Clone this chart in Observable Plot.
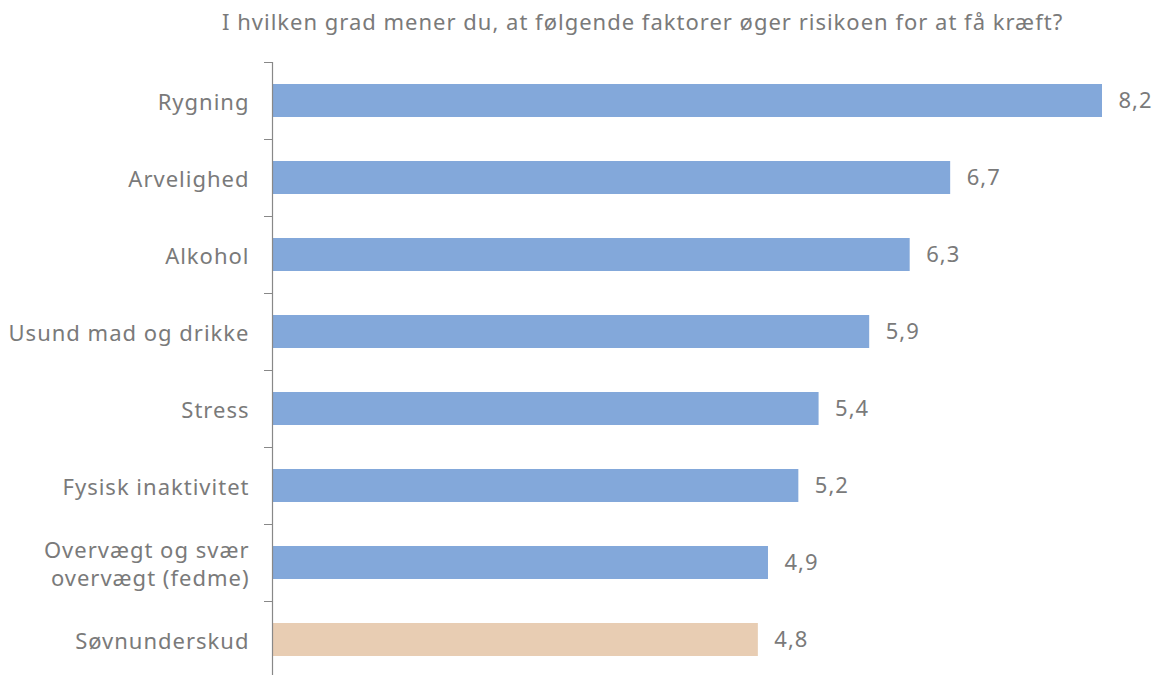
<!DOCTYPE html>
<html>
<head>
<meta charset="utf-8">
<script src="https://cdn.jsdelivr.net/npm/d3@7"></script>
<script src="https://cdn.jsdelivr.net/npm/@observablehq/plot@0.6"></script>
<style>
  html, body { margin: 0; padding: 0; background: #fff; overflow: hidden; }
  #title { height: 50px; box-sizing: border-box; padding-top: 6px; padding-left: 222px;
           font-family: "Noto Sans", sans-serif; font-size: 22px; letter-spacing: 1px; color: #7a7a7a; white-space: nowrap; }
  svg { display: block; }
</style>
</head>
<body>
<div id="title">I hvilken grad mener du, at følgende faktorer øger risikoen for at få kræft?</div>
<div id="chart"></div>
<script>
const categories = [
  "Rygning",
  "Arvelighed",
  "Alkohol",
  "Usund mad og drikke",
  "Stress",
  "Fysisk inaktivitet",
  "Overvægt og svær\novervægt (fedme)",
  "Søvnunderskud"
];
const values = [8.2, 6.7, 6.3, 5.9, 5.4, 5.2, 4.9, 4.8];
const groups = ["a", "a", "a", "a", "a", "a", "a", "b"];
const groupColors = {a: "#83a8da", b: "#e8cdb3"};

const data = categories.map((c, i) => ({category: c, value: values[i], group: groups[i]}));
const fmt = v => v.toFixed(1).replace(".", ",");
const textColor = "#7a7a7a";

const chart = Plot.plot({
  width: 1155,
  height: 630,
  marginLeft: 272,
  marginRight: 53,
  marginTop: 12,
  marginBottom: 2,
  style: {fontFamily: "'Noto Sans', sans-serif", fontSize: "22px", letterSpacing: "1px", color: textColor, background: "#fff"},
  x: {domain: [0, 8.2], axis: null},
  y: {domain: categories, paddingInner: 0.57, paddingOuter: 0.285, label: null},
  marks: [
    Plot.barX(data, {x: "value", y: "category", fill: d => groupColors[d.group]}),
    Plot.text(data, {x: "value", y: "category", text: d => fmt(d.value), textAnchor: "start", dx: 16, fill: textColor, fontSize: 22}),
    Plot.axisY({tickSize: 0, tickPadding: 23, fontSize: 22, fill: textColor, lineHeight: 1.25, label: null}),
    Plot.axisY({tickSize: 8, dy: -38.5, text: null, stroke: "#888", label: null}),
    Plot.ruleX([0], {stroke: "#888", strokeWidth: 1.2})
  ]
});
document.getElementById("chart").appendChild(chart);
</script>
</body>
</html>
